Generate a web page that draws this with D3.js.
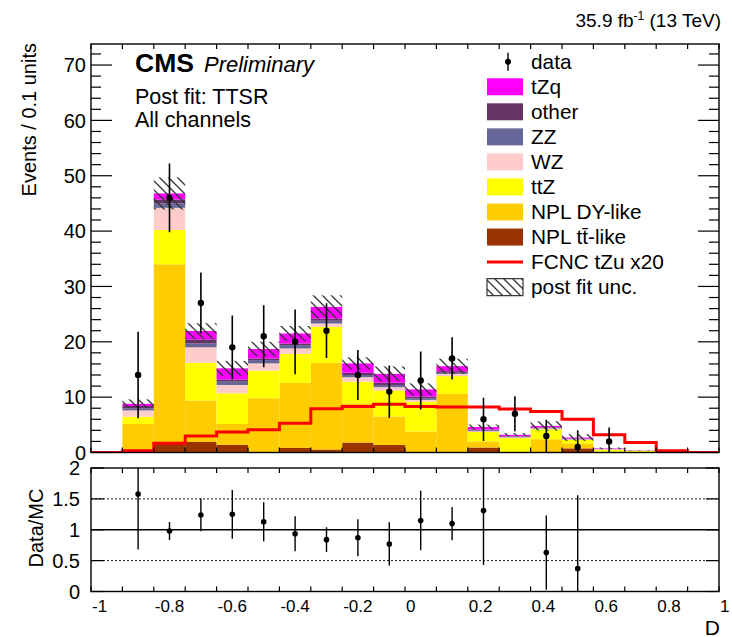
<!DOCTYPE html>
<html><head><meta charset="utf-8">
<script src="https://cdn.jsdelivr.net/npm/d3@7"></script>
<style>body{margin:0;background:#fff}text{font-family:"Liberation Sans",Arial,sans-serif;fill:#000}</style>
</head><body><svg id="c" width="732" height="637"></svg>
<script>
// ---- data (20 bins of width 0.1 from -1 to 1) ----
const binEdges = d3.range(21).map(i => -1 + i * 0.1);
const nplTT  = [0,0,1.7,1.9,1.4,0.1,0.85,0.55,1.8,1.35,0,0,0.9,0,0,0.75,0,0,0,0];
const nplDY  = [0,5.15,32.3,7.5,3.75,9.7,11.75,15.65,7.1,5.15,3.8,10.6,1.1,0,2.4,0.9,0.15,0.05,0,0];
const ttZ    = [0,1.32,6.2,6.8,5.55,5.0,5.2,6.5,3.9,4.7,5.4,3.2,1.7,2.6,1.8,0.65,0.35,0.25,0.08,0];
const wz     = [0,1.13,4.0,2.8,1.5,1.3,1.0,0.6,0.8,0.6,0.3,0.4,0.15,0.15,0.15,0.08,0.1,0.03,0.01,0];
const zz     = [0,0.35,0.8,0.7,0.6,0.6,0.6,0.5,0.4,0.4,0.3,0.2,0.15,0.1,0.1,0.07,0.03,0.01,0.01,0];
const other  = [0,0.45,0.7,0.75,0.4,0.3,0.3,0.4,0.4,0.4,0.3,0.3,0.15,0.1,0.1,0.07,0.03,0.01,0,0];
const tZq    = [0,0.4,1.1,1.5,2.0,1.7,1.8,2.1,1.7,1.6,1.3,0.9,0.45,0.25,0.25,0.18,0.09,0.03,0.02,0];
const postFitUnc = [0,0.8,2.9,1.4,1.35,1.3,1.35,2.1,1.1,1.35,1.1,1.35,0.45,0.3,0.85,0.6,0.15,0.05,0,0];
const fcnc   = [0,0.3,1.66,3.0,3.7,4.1,5.3,7.9,8.3,8.7,8.3,8.2,8.2,7.85,7.4,6.0,3.2,1.8,0.33,0];
const dataX   = [-0.85,-0.75,-0.65,-0.55,-0.45,-0.35,-0.25,-0.15,-0.05,0.05,0.15,0.25,0.35,0.45,0.55,0.65];
const dataY   = [14,46,27,19,21,20,22,14,11,13,17,6,7,3,1,2];
const dataErr = [7.8,6.2,5.5,5.75,5.6,5.85,4.95,4.5,4.7,5.25,3.8,3.9,3.15,2.9,3.0,2.5];
const ratioX   = [-0.85,-0.75,-0.65,-0.55,-0.45,-0.35,-0.25,-0.15,-0.05,0.05,0.15,0.25,0.45,0.55];
const ratioY   = [1.58,0.98,1.24,1.25,1.13,0.935,0.84,0.87,0.77,1.15,1.10,1.31,0.63,0.37];
const ratioErr = [0.9,0.145,0.265,0.395,0.315,0.285,0.2,0.3,0.35,0.48,0.27,0.88,0.6,1.19];
const yTicksMain = [0,10,20,30,40,50,60,70];
const yTicksRatio = [0,0.5,1,1.5,2];
const yRatioLabels = ["0","0.5","1","1.5","2"];
const xTickLabels = [-1,-0.8,-0.6,-0.4,-0.2,0,0.2,0.4,0.6,0.8,1];
const xTickText = ["-1","-0.8","-0.6","-0.4","-0.2","0","0.2","0.4","0.6","0.8","1"];
const legendLabels = ["data","tZq","other","ZZ","WZ","ttZ","NPL DY-like","NPL t\u0074\u0304-like","FCNC tZu x20","post fit unc."];

const components = [
  {name:"NPL tt-like", vals:nplTT, color:"#993300"},
  {name:"NPL DY-like", vals:nplDY, color:"#ffcc00"},
  {name:"ttZ", vals:ttZ, color:"#ffff00"},
  {name:"WZ", vals:wz, color:"#ffcccc"},
  {name:"ZZ", vals:zz, color:"#666699"},
  {name:"other", vals:other, color:"#663366"},
  {name:"tZq", vals:tZq, color:"#ff00ff"}
];

// ---- layout ----
const L = 91, R = 719;
const x = d3.scaleLinear().domain([-1,1]).range([L,R]);
const y = d3.scaleLinear().domain([0,73.8]).range([452.5,44]);
const yr = d3.scaleLinear().domain([0,2]).range([591.5,468]);
const svg = d3.select("#c");

const defs = svg.append("defs");
const pat = defs.append("pattern").attr("id","hatch").attr("patternUnits","userSpaceOnUse")
  .attr("width",9).attr("height",9);
pat.append("path").attr("d","M0,0L9,9M-4.5,4.5L4.5,13.5M4.5,-4.5L13.5,4.5")
  .attr("stroke","#333").attr("stroke-width",1.3);
defs.append("clipPath").attr("id","clipTop").append("rect").attr("x",L).attr("y",44).attr("width",R-L).attr("height",452.5-44);
defs.append("clipPath").attr("id","clipRatio").append("rect").attr("x",L).attr("y",468).attr("width",R-L).attr("height",591.5-468);

// ---- stacked histogram ----
const nb = binEdges.length - 1;
const stack = svg.append("g").attr("clip-path","url(#clipTop)");
const cum = new Array(nb).fill(0);
components.forEach(c => {
  for (let i = 0; i < nb; i++) {
    const lo = cum[i], hi = cum[i] + c.vals[i];
    cum[i] = hi;
    if (c.vals[i] <= 0) continue;
    stack.append("rect").attr("x", x(binEdges[i])).attr("width", x(binEdges[i+1]) - x(binEdges[i]))
      .attr("y", y(hi)).attr("height", y(lo) - y(hi)).attr("fill", c.color);
  }
});
// uncertainty band
for (let i = 0; i < nb; i++) {
  if (postFitUnc[i] <= 0) continue;
  stack.append("rect").attr("x", x(binEdges[i])).attr("width", x(binEdges[i+1]) - x(binEdges[i]))
    .attr("y", y(cum[i] + postFitUnc[i])).attr("height", y(cum[i] - postFitUnc[i]) - y(cum[i] + postFitUnc[i]))
    .attr("fill","url(#hatch)");
}
// FCNC step line
const fPts = fcnc.map((v,i) => [binEdges[i], v]).concat([[binEdges[nb], fcnc[nb-1]]]);
stack.append("path").attr("d", d3.line().x(d => x(d[0])).y(d => y(d[1])).curve(d3.curveStepAfter)(fPts))
  .attr("fill","none").attr("stroke","#ff0000").attr("stroke-width",3);

// data points
const dg = svg.append("g").attr("clip-path","url(#clipTop)");
dataX.forEach((dx,i) => {
  dg.append("line").attr("x1",x(dx)).attr("x2",x(dx)).attr("y1",y(Math.max(0,dataY[i]-dataErr[i]))).attr("y2",y(dataY[i]+dataErr[i]))
    .attr("stroke","#000").attr("stroke-width",1.6);
  dg.append("circle").attr("cx",x(dx)).attr("cy",y(dataY[i])).attr("r",3.2).attr("fill","#000");
});

// ---- frames and axes ----
function frame(y0,y1){
  svg.append("rect").attr("x",L).attr("y",y0).attr("width",R-L).attr("height",y1-y0)
    .attr("fill","none").attr("stroke","#000").attr("stroke-width",1.4);
}
frame(44,452.5);
frame(468,591.5);
const ax = svg.append("g").attr("stroke","#000").attr("stroke-width",1.2);
// x ticks every 0.1
binEdges.forEach(v => {
  [[452.5,-5],[44,5],[591.5,-5],[468,5]].forEach(([yy,d]) => {
    ax.append("line").attr("x1",x(v)).attr("x2",x(v)).attr("y1",yy).attr("y2",yy+d);
  });
});
// main y ticks
d3.range(0,73,2).forEach(v => {
  const len = (v % 10 === 0) ? 21 : 10;
  ax.append("line").attr("x1",L).attr("x2",L+len).attr("y1",y(v)).attr("y2",y(v));
  ax.append("line").attr("x1",R).attr("x2",R-len).attr("y1",y(v)).attr("y2",y(v));
});
yTicksMain.forEach(v => {
  svg.append("text").attr("x",86).attr("y",y(v)+7.2).attr("text-anchor","end").attr("font-size",20).text(v);
});
// ratio y ticks & lines
yTicksRatio.forEach((v,i) => {
  ax.append("line").attr("x1",L).attr("x2",L+13).attr("y1",yr(v)).attr("y2",yr(v));
  ax.append("line").attr("x1",R).attr("x2",R-13).attr("y1",yr(v)).attr("y2",yr(v));
  svg.append("text").attr("x",80).attr("y",yr(v)+7.2).attr("text-anchor","end").attr("font-size",20).text(yRatioLabels[i]);
});
svg.append("line").attr("x1",L).attr("x2",R).attr("y1",yr(1)).attr("y2",yr(1)).attr("stroke","#000").attr("stroke-width",1.4);
[0.5,1.5].forEach(v => svg.append("line").attr("x1",L).attr("x2",R).attr("y1",yr(v)).attr("y2",yr(v))
  .attr("stroke","#000").attr("stroke-width",0.9).attr("stroke-dasharray","2,2"));
// x labels
xTickLabels.forEach((v,i) => {
  svg.append("text").attr("x",x(v)+1).attr("y",611.5).attr("font-size",17).text(xTickText[i]);
});
svg.append("text").attr("x",720).attr("y",634.5).attr("text-anchor","end").attr("font-size",21).text("D");
svg.append("text").attr("transform","translate(36,43) rotate(-90)").attr("text-anchor","end").attr("font-size",20).text("Events / 0.1 units");
svg.append("text").attr("transform","translate(43,528) rotate(-90)").attr("text-anchor","middle").attr("font-size",20).text("Data/MC");

// ratio points
const rg = svg.append("g").attr("clip-path","url(#clipRatio)");
ratioX.forEach((rx,i) => {
  rg.append("line").attr("x1",x(rx)).attr("x2",x(rx)).attr("y1",yr(ratioY[i]-ratioErr[i])).attr("y2",yr(ratioY[i]+ratioErr[i]))
    .attr("stroke","#000").attr("stroke-width",1.4);
  rg.append("circle").attr("cx",x(rx)).attr("cy",yr(ratioY[i])).attr("r",2.8).attr("fill","#000");
});

// ---- texts ----
svg.append("text").attr("x",135).attr("y",71.7).attr("font-size",26.5).attr("font-weight","bold").text("CMS");
svg.append("text").attr("x",204).attr("y",71.7).attr("font-size",22).attr("font-style","italic").text("Preliminary");
svg.append("text").attr("x",135).attr("y",103.5).attr("font-size",21.5).text("Post fit: TTSR");
svg.append("text").attr("x",135).attr("y",127).attr("font-size",21.5).text("All channels");
const lumi = svg.append("text").attr("x",721).attr("y",27).attr("text-anchor","end").attr("font-size",19);
lumi.append("tspan").text("35.9 fb");
lumi.append("tspan").attr("font-size",12).attr("dy",-7).text("-1");
lumi.append("tspan").attr("dy",7).text(" (13 TeV)");

// ---- legend ----
const lg = svg.append("g");
const legColors = [null,"#ff00ff","#663366","#666699","#ffcccc","#ffff00","#ffcc00","#993300",null,null];
legendLabels.forEach((t,i) => {
  const cy = 61.7 + 25.05 * i;
  if (i === 0) {
    lg.append("line").attr("x1",508).attr("x2",508).attr("y1",cy-9).attr("y2",cy+9).attr("stroke","#000").attr("stroke-width",1.4);
    lg.append("circle").attr("cx",508).attr("cy",cy).attr("r",3).attr("fill","#000");
  } else if (i === 8) {
    lg.append("line").attr("x1",487).attr("x2",523).attr("y1",cy).attr("y2",cy).attr("stroke","#ff0000").attr("stroke-width",3);
  } else if (i === 9) {
    lg.append("rect").attr("x",487).attr("y",cy-8.5).attr("width",36).attr("height",17).attr("fill","url(#hatch)")
      .attr("stroke","#333").attr("stroke-width",1.2);
  } else {
    lg.append("rect").attr("x",487).attr("y",cy-8.5).attr("width",36).attr("height",17).attr("fill",legColors[i]);
  }
  lg.append("text").attr("x",531).attr("y",cy+7.3).attr("font-size",20.8).text(t);
});
</script></body></html>
